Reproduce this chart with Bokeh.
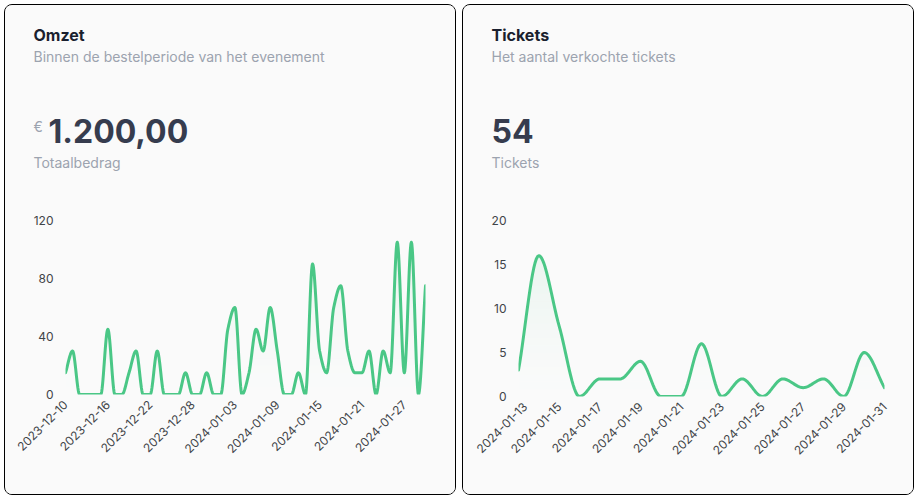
import numpy as np
from bokeh.plotting import figure
from bokeh.layouts import row, column
from bokeh.models import FixedTicker, DatetimeTickFormatter, Range1d, Spacer
from bokeh.core.properties import value
from bokeh.embed import file_html
from bokeh.resources import INLINE

# ---------------- data ----------------
omzet_title = "Omzet"
omzet_subtitle = "Binnen de bestelperiode van het evenement"
omzet_currency = "€"
omzet_total = "1.200,00"
omzet_caption = "Totaalbedrag"
omzet_start = "2023-12-10"
omzet_values = [15, 30, 0, 0, 0, 0, 45, 0, 0, 15, 30, 0, 0, 30, 0, 0, 0, 15, 0, 0,
                15, 0, 0, 45, 60, 0, 15, 45, 30, 60, 30, 0, 0, 15, 0, 90, 30, 15, 60, 75,
                30, 15, 15, 30, 0, 30, 15, 105, 15, 105, 0, 75]
omzet_xticks = ["2023-12-10", "2023-12-16", "2023-12-22", "2023-12-28", "2024-01-03",
                "2024-01-09", "2024-01-15", "2024-01-21", "2024-01-27"]
omzet_yticks = [0, 40, 80, 120]

tickets_title = "Tickets"
tickets_subtitle = "Het aantal verkochte tickets"
tickets_total = "54"
tickets_caption = "Tickets"
tickets_start = "2024-01-13"
tickets_values = [3, 16, 8, 0, 2, 2, 4, 0, 0, 6, 0, 2, 0, 2, 1, 2, 0, 5, 1]
tickets_xticks = ["2024-01-13", "2024-01-15", "2024-01-17", "2024-01-19", "2024-01-21",
                  "2024-01-23", "2024-01-25", "2024-01-27", "2024-01-29", "2024-01-31"]
tickets_yticks = [0, 5, 10, 15, 20]

# ---------------- style ----------------
BG = "#fafafa"
GREEN = "#4ac786"
TITLE_C = "#1a1f2e"
MUTED_C = "#9ca3af"
NUM_C = "#363c4e"
TICK_C = "#3f4448"
FONT = "Inter"
DAY = 86400000.0
W = 450          # inner card width
HEAD_H = 200     # header area height
CHART_H = 289    # chart area height
CHART_TOP = 15   # frame top inside chart figure


def to_ms(s):
    return float((np.datetime64(s) - np.datetime64("1970-01-01")) / np.timedelta64(1, "ms"))


def monotone_curve(xs, ys, n=16):
    x = np.asarray(xs, float)
    y = np.asarray(ys, float)
    h = np.diff(x)
    d = np.diff(y) / h
    m = np.empty_like(y)
    m[0], m[-1] = d[0], d[-1]
    for k in range(1, len(y) - 1):
        if d[k - 1] * d[k] <= 0:
            m[k] = 0.0
        else:
            w1 = 2 * h[k] + h[k - 1]
            w2 = h[k] + 2 * h[k - 1]
            m[k] = (w1 + w2) / (w1 / d[k - 1] + w2 / d[k])
    t = np.linspace(0, 1, n, endpoint=False)
    h00 = 2 * t**3 - 3 * t**2 + 1
    h10 = t**3 - 2 * t**2 + t
    h01 = -2 * t**3 + 3 * t**2
    h11 = t**3 - t**2
    ox, oy = [], []
    for k in range(len(h)):
        ox.append(x[k] + t * h[k])
        oy.append(h00 * y[k] + h10 * h[k] * m[k] + h01 * y[k + 1] + h11 * h[k] * m[k + 1])
    ox.append([x[-1]])
    oy.append([y[-1]])
    return np.concatenate(ox), np.concatenate(oy)


def header(title, subtitle, total, caption, currency=None):
    h = figure(width=W, height=HEAD_H, output_backend="svg", toolbar_location=None,
               title=None,
               x_range=Range1d(0, W), y_range=Range1d(HEAD_H, 0),
               x_axis_location=None, y_axis_location=None, min_border=0,
               background_fill_color=BG, border_fill_color=BG, outline_line_color=None)
    h.xgrid.visible = False
    h.ygrid.visible = False

    def t(txt, x, base, size, color, style="normal"):
        y = base - 0.4 * size
        h.text(x=[x], y=[y], text=[txt], text_font=value(FONT), text_font_size=f"{size}px",
               text_font_style=style, text_color=color,
               text_baseline="alphabetic", text_align="left")

    t(title, 28, 36, 16, TITLE_C, "bold")
    t(subtitle, 28, 57, 14, MUTED_C)
    if currency:
        t(currency, 28, 127, 14, MUTED_C)
        t(total, 43, 138, 32, NUM_C, "bold")
    else:
        t(total, 28, 138, 32, NUM_C, "bold")
    t(caption, 28, 163, 14, MUTED_C)
    return h


def chart(start, vals, xticks, yticks, width, fl, fw, fh):
    xs = [to_ms(start) + i * DAY for i in range(len(vals))]
    ytop = yticks[-1]
    p = figure(x_axis_type="datetime", output_backend="svg", toolbar_location=None,
               title=None,
               frame_width=fw, frame_height=fh,
               min_border_left=fl, min_border_right=width - fl - fw,
               min_border_top=CHART_TOP, min_border_bottom=CHART_H - CHART_TOP - fh,
               x_range=Range1d(xs[0], xs[-1]), y_range=Range1d(0, ytop),
               background_fill_color=BG, border_fill_color=BG, outline_line_color=None)
    p.xgrid.visible = False
    p.ygrid.visible = False
    for ax in (p.xaxis[0], p.yaxis[0]):
        ax.axis_line_color = None
        ax.major_tick_line_color = None
        ax.minor_tick_line_color = None
        ax.major_tick_out = 0
        ax.major_tick_in = 0
        ax.major_label_text_font = FONT
        ax.major_label_text_font_size = "12px"
        ax.major_label_text_color = TICK_C
    p.yaxis.ticker = FixedTicker(ticks=yticks)
    p.yaxis.major_label_standoff = 12
    p.xaxis.ticker = FixedTicker(ticks=[to_ms(s) for s in xticks])
    fmt = "%Y-%m-%d"
    p.xaxis.formatter = DatetimeTickFormatter(
        microseconds=fmt, milliseconds=fmt, seconds=fmt, minsec=fmt, minutes=fmt,
        hourmin=fmt, hours=fmt, days=fmt, months=fmt, years=fmt)
    p.xaxis.major_label_orientation = np.pi / 4
    p.xaxis.major_label_standoff = 8

    cx, cy = monotone_curve(xs, vals)
    nb = 24
    for k in range(nb):
        lo = ytop * k / nb
        hi = ytop * (k + 1) / nb
        a = 0.11 * ((k + 0.5) / nb) ** 1.3
        p.varea(x=cx, y1=np.minimum(cy, lo), y2=np.minimum(cy, hi),
                fill_color=GREEN, fill_alpha=a)
    p.line(cx, cy, line_color=GREEN, line_width=3, line_join="round", line_cap="round")
    return p


CARD_STYLE = {"border": "1px solid #000", "border-radius": "8px",
              "overflow": "hidden", "background-color": BG}

h1 = header(omzet_title, omzet_subtitle, omzet_total, omzet_caption, currency=omzet_currency)
c1 = chart(omzet_start, omzet_values, omzet_xticks, omzet_yticks, width=W, fl=60, fw=360, fh=174)
card1 = column(row(h1, spacing=0), row(c1, spacing=0), spacing=0)
card1.styles = dict(CARD_STYLE)

h2 = header(tickets_title, tickets_subtitle, tickets_total, tickets_caption)
CLIP = 12
c2 = chart(tickets_start, tickets_values, tickets_xticks, tickets_yticks,
           width=W - CLIP, fl=55 - CLIP, fw=366, fh=176)
card2 = column(row(h2, spacing=0),
               row(Spacer(width=CLIP, height=CHART_H, styles={"background-color": BG}), c2,
                   spacing=0), spacing=0)
card2.styles = dict(CARD_STYLE)

layout = row(card1, card2, spacing=6)
layout.styles = {"margin-left": "4px", "margin-top": "4px"}

open("out.html", "w").write(file_html(layout, INLINE))
